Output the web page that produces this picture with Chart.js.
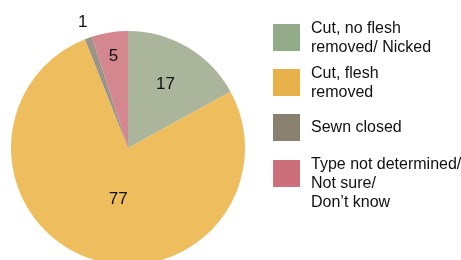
<!DOCTYPE html>
<html>
<head>
<meta charset="utf-8">
<script src="https://cdn.jsdelivr.net/npm/chart.js@4/dist/chart.umd.min.js"></script>
<style>
html,body{margin:0;padding:0;background:#fff;overflow:hidden;}
#wrap{position:relative;width:461px;height:290px;}
</style>
</head>
<body>
<div id="wrap"><canvas id="c" width="461" height="290"></canvas></div>
<script>
const categories = [
  ["Cut, no flesh", "removed/ Nicked"],
  ["Cut, flesh", "removed"],
  ["Sewn closed"],
  ["Type not determined/", "Not sure/", "Don\u2019t know"]
];
const values = [17, 77, 1, 5];
const sliceColors = ["#abb59b", "#eebd5e", "#9c9488", "#d4878f"];
const legendColors = ["#94ab8a", "#e8b24a", "#8a8070", "#cc6f7b"];
const labelRadius = [0.63, 0.45, 1.14, 0.79];
const labelAngleShiftDeg = [0, -9, 0, 0];

const FONT = '"Liberation Sans", Arial, sans-serif';

const labelPlugin = {
  id: 'sliceLabels',
  afterDatasetsDraw(chart) {
    const ctx = chart.ctx;
    const meta = chart.getDatasetMeta(0);
    ctx.save();
    ctx.font = '17px ' + FONT;
    ctx.fillStyle = '#111';
    ctx.textAlign = 'center';
    ctx.textBaseline = 'middle';
    meta.data.forEach((arc, i) => {
      const p = arc.getProps(['x','y','startAngle','endAngle','outerRadius'], true);
      const mid = (p.startAngle + p.endAngle) / 2 + labelAngleShiftDeg[i] * Math.PI / 180;
      const r = p.outerRadius * labelRadius[i];
      ctx.fillText(String(values[i]), p.x + Math.cos(mid) * r, p.y + Math.sin(mid) * r);
    });
    ctx.restore();
  }
};

const legendPlugin = {
  id: 'sideLegend',
  afterDraw(chart) {
    const ctx = chart.ctx;
    ctx.save();
    const boxX = 273, boxSize = 27, textX = 311, lineH = 18.7;
    const tops = [24, 69, 114, 160];
    ctx.font = '16px ' + FONT;
    ctx.textBaseline = 'middle';
    ctx.textAlign = 'left';
    categories.forEach((lines, i) => {
      const top = tops[i];
      ctx.fillStyle = legendColors[i];
      ctx.fillRect(boxX, top, boxSize, boxSize);
      ctx.fillStyle = '#111';
      let y0 = lines.length === 1 ? top + boxSize / 2 : top + 5;
      lines.forEach((t, j) => ctx.fillText(t, textX, y0 + j * lineH));
    });
    ctx.restore();
  }
};

new Chart(document.getElementById('c'), {
  type: 'pie',
  data: {
    labels: categories.map(l => l.join(' ')),
    datasets: [{
      data: values,
      backgroundColor: sliceColors,
      borderWidth: 0
    }]
  },
  options: {
    responsive: false,
    animation: false,
    layout: { padding: { left: 11, top: 31, right: 216, bottom: 25 } },
    plugins: { legend: { display: false }, tooltip: { enabled: false } }
  },
  plugins: [labelPlugin, legendPlugin]
});
</script>
</body>
</html>
